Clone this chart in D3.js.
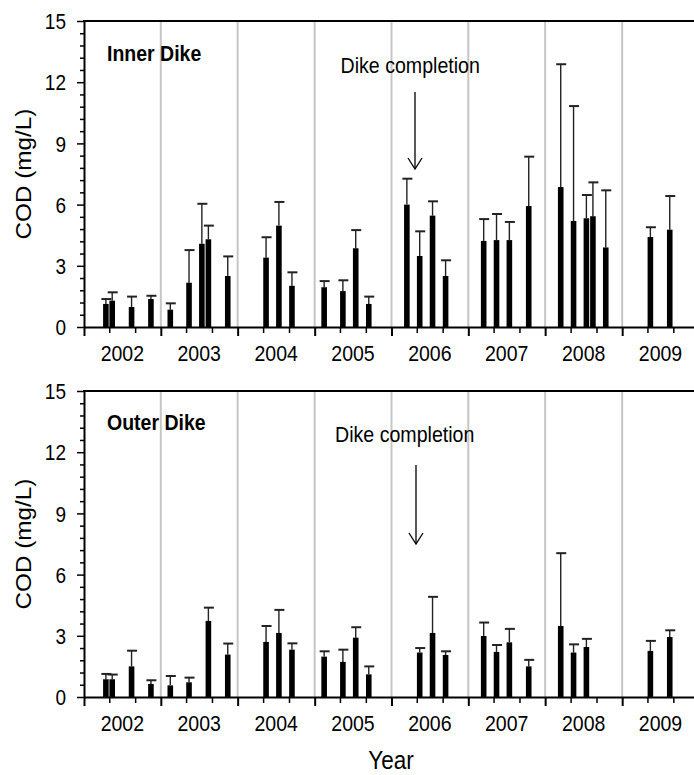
<!DOCTYPE html>
<html>
<head>
<meta charset="utf-8">
<script src="https://cdn.jsdelivr.net/npm/d3@7"></script>
<style>
  html, body { margin: 0; padding: 0; background: #fff; }
  svg { display: block; }
  text { font-family: "Liberation Sans", Arial, sans-serif; fill: #000; }
</style>
</head>
<body>
<svg id="chart" width="694" height="775"></svg>
<script>
// ---------- data ----------
const years = [2002, 2003, 2004, 2005, 2006, 2007, 2008, 2009];
const yTicks = [0, 3, 6, 9, 12, 15];

const innerDates = ["2002-04","2002-05","2002-08","2002-11","2003-02","2003-05","2003-07","2003-08","2003-11",
  "2004-05","2004-07","2004-09","2005-02","2005-05","2005-07","2005-09","2006-03","2006-05","2006-07","2006-09",
  "2007-03","2007-05","2007-07","2007-10","2008-03","2008-05","2008-07","2008-08","2008-10","2009-05","2009-08"];
const innerMean = [1.13,1.29,0.98,1.37,0.85,2.17,4.08,4.30,2.50,3.40,4.97,2.02,1.95,1.76,3.86,1.13,6.00,3.48,5.46,2.50,
  4.22,4.26,4.26,5.93,6.86,5.20,5.33,5.43,3.90,4.41,4.77];
const innerSD = [0.24,0.41,0.51,0.16,0.31,1.60,1.96,0.67,0.96,1.00,1.16,0.66,0.30,0.53,0.89,0.36,1.27,1.21,0.70,0.77,
  1.07,1.28,0.89,2.42,6.02,5.63,1.14,1.66,2.80,0.48,1.65];

const outerDates = ["2002-04","2002-05","2002-08","2002-11","2003-02","2003-05","2003-08","2003-11",
  "2004-05","2004-07","2004-09","2005-02","2005-05","2005-07","2005-09","2006-05","2006-07","2006-09",
  "2007-03","2007-05","2007-07","2007-10","2008-03","2008-05","2008-07","2009-05","2009-08"];
const outerMean = [0.87,0.87,1.50,0.64,0.57,0.72,3.73,2.08,2.70,3.14,2.32,1.98,1.72,2.91,1.11,2.18,3.14,2.06,
  2.99,2.21,2.68,1.50,3.48,2.18,2.45,2.26,2.94];
const outerSD = [0.26,0.23,0.77,0.18,0.46,0.23,0.65,0.54,0.78,1.13,0.31,0.26,0.60,0.51,0.39,0.22,1.77,0.18,
  0.66,0.34,0.66,0.32,3.57,0.40,0.40,0.49,0.33];

const panels = [
  { title: "Inner Dike", dates: innerDates, mean: innerMean, sd: innerSD, top: 21, bottom: 327,
    note: { x: 340.5, y: 73 }, arrow: { x: 415, y1: 92, y2: 169 } },
  { title: "Outer Dike", dates: outerDates, mean: outerMean, sd: outerSD, top: 391, bottom: 697,
    note: { x: 335, y: 442 }, arrow: { x: 416, y1: 465, y2: 544 } }
];

// ---------- layout ----------
const svg = d3.select("#chart");
const left = 84, right = 699;
const SY = 1.13; // vertical stretch of text in the reference
const parseMonth = d3.timeParse("%Y-%m");
const midMonth = s => { const d = parseMonth(s); return new Date(d.getFullYear(), d.getMonth(), 15); };

const x = d3.scaleTime()
  .domain([new Date(2002, 0, 1), new Date(2010, 0, 1)])
  .range([left, right]);

const barW = 5.6, capW = 10;

function addText(g, txt, tx, ty, opts) {
  return g.append("text")
    .attr("transform", `translate(${tx},${ty}) ${opts.rotate ? "rotate(-90) scale(" + SY + ",1)" : "scale(1," + SY + ")"}`)
    .attr("text-anchor", opts.anchor || "start")
    .style("font-size", opts.size + "px")
    .style("font-weight", opts.weight || "normal")
    .text(txt);
}

panels.forEach(p => {
  const y = d3.scaleLinear().domain([0, 15]).range([p.bottom, p.top]);
  const g = svg.append("g");

  // year separator gridlines
  g.selectAll("line.grid").data(years.slice(1)).join("line")
    .attr("class", "grid")
    .attr("x1", d => x(new Date(d, 0, 1))).attr("x2", d => x(new Date(d, 0, 1)))
    .attr("y1", p.top).attr("y2", p.bottom)
    .attr("stroke", "#c6c6c6").attr("stroke-width", 2);

  // error bars
  const data = p.dates.map((d, i) => ({ date: midMonth(d), m: p.mean[i], sd: p.sd[i] }));
  const eg = g.append("g").attr("stroke", "#222").attr("stroke-width", 1.4);
  eg.selectAll("line.ev").data(data).join("line")
    .attr("x1", d => x(d.date)).attr("x2", d => x(d.date))
    .attr("y1", d => y(d.m)).attr("y2", d => y(d.m + d.sd));
  eg.selectAll("line.cap").data(data).join("line")
    .attr("x1", d => x(d.date) - capW / 2 + 0.5).attr("x2", d => x(d.date) + capW / 2 + 0.5)
    .attr("y1", d => y(d.m + d.sd)).attr("y2", d => y(d.m + d.sd))
    .attr("stroke-width", 2);

  // bars
  g.selectAll("rect.bar").data(data).join("rect")
    .attr("x", d => x(d.date) - barW / 2)
    .attr("width", barW)
    .attr("y", d => y(d.m))
    .attr("height", d => y(0) - y(d.m))
    .attr("fill", "#000");

  // y axis (major + minor)
  const yMinor = d3.range(0, 15.001, 0.6).filter(v => Math.abs(v / 3 - Math.round(v / 3)) > 1e-6);
  g.append("g").attr("transform", `translate(${left},0)`)
    .call(d3.axisLeft(y).tickValues(yMinor).tickSize(4).tickFormat(""))
    .call(a => a.select(".domain").remove())
    .selectAll("line").attr("stroke-width", 1.5);
  const ya = g.append("g").attr("transform", `translate(${left},0)`)
    .call(d3.axisLeft(y).tickValues(yTicks).tickSize(7).tickPadding(11).tickSizeOuter(0));
  ya.selectAll("line").attr("stroke-width", 1.5);
  ya.select(".domain").attr("stroke-width", 2);
  ya.selectAll("text")
    .style("font-size", "19px").style("font-family", "Liberation Sans, Arial, sans-serif")
    .attr("dy", "0.36em")
    .attr("transform", `scale(1,${SY})`);

  // x axis (major at year starts, minor every 4 months)
  const xMinor = [];
  years.forEach(yr => { xMinor.push(new Date(yr, 4, 1)); xMinor.push(new Date(yr, 8, 1)); });
  g.append("g").attr("transform", `translate(0,${p.bottom})`)
    .call(d3.axisBottom(x).tickValues(xMinor).tickSize(6).tickFormat(""))
    .call(a => a.select(".domain").remove())
    .selectAll("line").attr("stroke-width", 1.5);
  const xa = g.append("g").attr("transform", `translate(0,${p.bottom})`)
    .call(d3.axisBottom(x).tickValues(years.map(yr => new Date(yr, 0, 1))).tickSize(9).tickFormat("").tickSizeOuter(0));
  xa.selectAll("line").attr("stroke-width", 2);
  xa.select(".domain").attr("stroke-width", 2);

  // year labels centred in each year
  years.forEach(yr => {
    addText(g, String(yr), x(new Date(yr, 6, 2)), p.bottom + 34, { size: 19.5, anchor: "middle" });
  });

  // top frame line
  g.append("line").attr("x1", left - 1).attr("x2", right).attr("y1", p.top).attr("y2", p.top)
    .attr("stroke", "#000").attr("stroke-width", 2.2);

  // y axis title
  addText(g, "COD (mg/L)", 31, (p.top + p.bottom) / 2, { size: 21.5, anchor: "middle", rotate: true });

  // panel title
  addText(g, p.title, 107, p.top + (p.title === "Inner Dike" ? 40 : 39), { size: 19.5, weight: "bold" });

  // annotation
  addText(g, "Dike completion", p.note.x, p.note.y, { size: 19.6 });
  g.append("line").attr("x1", p.arrow.x).attr("x2", p.arrow.x).attr("y1", p.arrow.y1).attr("y2", p.arrow.y2)
    .attr("stroke", "#000").attr("stroke-width", 1.3);
  g.append("path")
    .attr("d", `M${p.arrow.x - 7},${p.arrow.y2 - 11} L${p.arrow.x},${p.arrow.y2} L${p.arrow.x + 7},${p.arrow.y2 - 11}`)
    .attr("fill", "none").attr("stroke", "#000").attr("stroke-width", 1.3);
});

// x axis title
addText(svg, "Year", 391, 769, { size: 22.5, anchor: "middle" });
</script>
</body>
</html>
